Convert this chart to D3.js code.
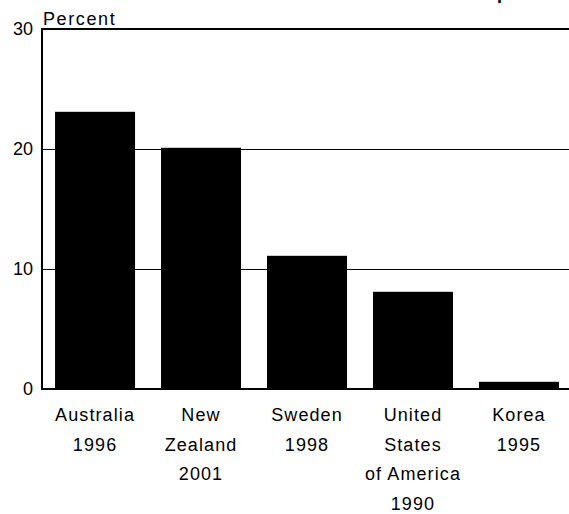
<!DOCTYPE html>
<html>
<head>
<meta charset="utf-8">
<script src="https://cdn.jsdelivr.net/npm/d3@7"></script>
<style>
  body { margin: 0; background: #fff; }
  text { font-family: "Liberation Sans", Arial, sans-serif; fill: #000; }
</style>
</head>
<body>
<div id="chart"></div>
<script>
// data
var countries = ["Australia", "New Zealand", "Sweden", "United States of America", "Korea"];
var labelLines = [
    ["Australia", "1996"],
    ["New", "Zealand", "2001"],
    ["Sweden", "1998"],
    ["United", "States", "of America", "1990"],
    ["Korea", "1995"]
];
var values = [23.1, 20.1, 11.1, 8.1, 0.6];
var yTicks = [0, 10, 20, 30];

var svgWidth = 569;
var svgHeight = 514;

var svg = d3.select("#chart")
    .append("svg")
    .attr("width", svgWidth)
    .attr("height", svgHeight);

var x = d3.scaleBand()
    .domain(countries)
    .range([42, 572])
    .paddingInner(0.245)
    .paddingOuter(0.123);

var y = d3.scaleLinear()
    .domain([0, 30])
    .range([389, 29]);

// clipped title, only its descender shows at the top edge
svg.append("text")
    .attr("x", 497)
    .attr("y", -1)
    .attr("font-size", 18)
    .attr("font-weight", "bold")
    .text("p");

// grid lines
svg.selectAll(".grid")
    .data(yTicks.filter(d => d > 0))
    .enter().append("line")
    .attr("x1", 42)
    .attr("x2", svgWidth)
    .attr("y1", d => d === 30 ? y(d) : y(d) + 0.5)
    .attr("y2", d => d === 30 ? y(d) : y(d) + 0.5)
    .attr("stroke", "#000")
    .attr("stroke-width", d => d === 30 ? 2 : 1);

// bars
svg.selectAll(".bar")
    .data(values)
    .enter().append("rect")
    .attr("x", (d, i) => x(countries[i]))
    .attr("width", x.bandwidth())
    .attr("y", d => y(d))
    .attr("height", d => y(0) - y(d))
    .attr("fill", "#000");

// axes lines
svg.append("line")
    .attr("x1", 42).attr("x2", 42)
    .attr("y1", y(30) - 1).attr("y2", y(0) + 1)
    .attr("stroke", "#000").attr("stroke-width", 2);
svg.append("line")
    .attr("x1", 41).attr("x2", svgWidth)
    .attr("y1", y(0)).attr("y2", y(0))
    .attr("stroke", "#000").attr("stroke-width", 2);

// y tick labels
svg.selectAll(".ytick")
    .data(yTicks)
    .enter().append("text")
    .attr("x", 33)
    .attr("y", d => y(d))
    .attr("dy", "0.36em")
    .attr("text-anchor", "end")
    .attr("font-size", 18)
    .text(d => d);

svg.append("text")
    .attr("x", 43)
    .attr("y", 25)
    .attr("font-size", 18)
    .attr("letter-spacing", 1.6)
    .text("Percent");

// category labels
var cat = svg.selectAll(".cat")
    .data(countries)
    .enter().append("text")
    .attr("text-anchor", "middle")
    .attr("font-size", 18)
    .attr("letter-spacing", 1.1);

cat.selectAll("tspan")
    .data((d, i) => labelLines[i].map(t => ({ t: t, c: d })))
    .enter().append("tspan")
    .attr("x", d => x(d.c) + x.bandwidth() / 2)
    .attr("y", (d, j) => 421 + j * 29.5)
    .text(d => d.t);
</script>
</body>
</html>
